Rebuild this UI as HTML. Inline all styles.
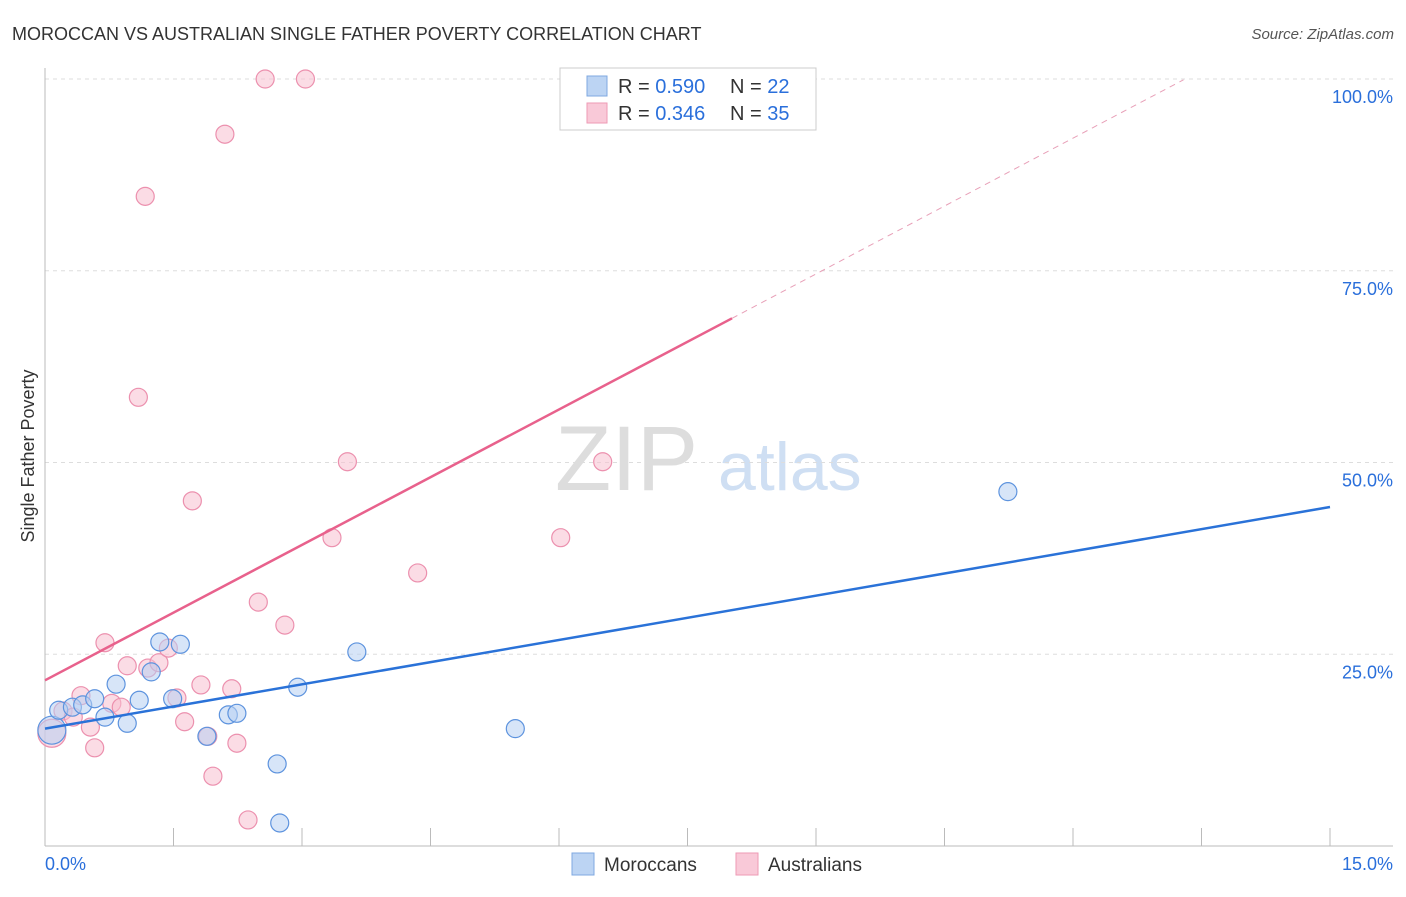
<!DOCTYPE html>
<html><head><meta charset="utf-8"><style>
body{margin:0;background:#fff;font-family:"Liberation Sans",sans-serif}
svg text{font-family:"Liberation Sans",sans-serif}
</style></head><body>
<svg id="c" width="1406" height="892">
<text x="12" y="40" font-size="18" fill="#333">MOROCCAN VS AUSTRALIAN SINGLE FATHER POVERTY CORRELATION CHART</text>
<text x="1394" y="39" font-size="15" fill="#555" font-style="italic" text-anchor="end">Source: ZipAtlas.com</text>
<text x="34" y="456" font-size="18" fill="#333" text-anchor="middle" transform="rotate(-90 34 456)">Single Father Poverty</text>
<text x="555" y="490" font-size="92" fill="#ddd" font-family="Liberation Serif">ZIP</text>
<text x="718" y="490" font-size="68" fill="#cfdff3">atlas</text>
<g id="grid"></g><g id="pts"></g><g id="lines"></g>
<g>
<rect x="560" y="68" width="256" height="62" fill="#fff" stroke="#ccc"/>
<rect x="587" y="76" width="20" height="20" fill="#bcd4f3" stroke="#7fa8e0"/>
<text x="618" y="93" font-size="20" fill="#333">R = <tspan fill="#2a6fdb">0.590</tspan></text>
<text x="730" y="93" font-size="20" fill="#333">N = <tspan fill="#2a6fdb">22</tspan></text>
<rect x="587" y="103" width="20" height="20" fill="#f9c9d8" stroke="#ee9ab5"/>
<text x="618" y="120" font-size="20" fill="#333">R = <tspan fill="#2a6fdb">0.346</tspan></text>
<text x="730" y="120" font-size="20" fill="#333">N = <tspan fill="#2a6fdb">35</tspan></text>
</g>
<g>
<rect x="572" y="853" width="22" height="22" fill="#bcd4f3" stroke="#7fa8e0"/>
<text x="604" y="871" font-size="19" fill="#333">Moroccans</text>
<rect x="736" y="853" width="22" height="22" fill="#f9c9d8" stroke="#ee9ab5"/>
<text x="768" y="871" font-size="19" fill="#333">Australians</text>
</g>
</svg>
<script>
const blueX=[0.08,0.16,0.32,0.44,0.58,0.83,0.70,0.96,1.10,1.24,1.34,1.58,1.49,1.89,2.14,2.24,2.95,2.71,2.74,3.64,5.49,11.24];
const blueY=[15.1,17.7,18.1,18.4,19.2,21.1,16.8,16.0,19.0,22.7,26.6,26.3,19.2,14.3,17.1,17.3,20.7,10.7,3.0,25.3,15.3,46.2];
const pinkX=[0.70,0.96,1.20,1.33,1.44,0.42,0.78,0.89,0.53,0.58,0.21,0.33,1.82,2.18,1.54,1.63,1.90,2.24,1.96,2.37,2.80,0.08,2.49,4.35,3.35,1.72,1.09,1.17,2.10,2.57,3.04,3.53,6.51,6.02];
const pinkY=[26.5,23.5,23.2,23.9,25.8,19.6,18.6,18.1,15.5,12.8,17.6,16.8,21.0,20.5,19.3,16.2,14.3,13.4,9.1,3.4,28.8,14.7,31.8,35.6,40.2,45.0,58.5,84.7,92.8,100,100,50.1,50.1,40.2];
const yTicks=[25,50,75,100];
const yTickLabels=["25.0%","50.0%","75.0%","100.0%"];
const xTicks=[0,1.5,3,4.5,6,7.5,9,10.5,12,13.5,15];
const blueTrend=[15.3,44.2];
const pinkTrend=[21.6,68.8,99.9];
const pinkSolidEnd=8.02, pinkDashEnd=13.29;
const NS="http://www.w3.org/2000/svg";
const X=v=>45+v/15*1285, Y=v=>846-v/100*767;
function mk(t,a,p){const e=document.createElementNS(NS,t);for(const k in a)e.setAttribute(k,a[k]);p.appendChild(e);return e;}
const g=document.getElementById('grid');
yTicks.forEach((t,i)=>{
 const l=mk('line',{x1:45,x2:1393,y1:Y(t),y2:Y(t),stroke:'#ddd','stroke-dasharray':'4,4'},g);
 
 
 const tx=mk('text',{x:1393,y:Y(t)+24,'font-size':18,fill:'#2a6fdb','text-anchor':'end'},g);
 tx.textContent=yTickLabels[i];
 
 
});
const topGrid=mk('line',{x1:45,x2:1393,y1:79,y2:79,stroke:'#ddd','stroke-dasharray':'4,4'},g);


const ax=mk('line',{x1:45,x2:45,y1:68,y2:846,stroke:'#bbb'},g);


const bx=mk('line',{x1:45,x2:1393,y1:846,y2:846,stroke:'#bbb'},g);


xTicks.forEach(t=>{
 const l=mk('line',{x1:X(t),x2:X(t),y1:828,y2:846,stroke:'#bbb'},g);
 
 
});
const x0=mk('text',{x:45,y:870,'font-size':18,fill:'#2a6fdb'},g);x0.textContent='0.0%';


const x1=mk('text',{x:1393,y:870,'font-size':18,fill:'#2a6fdb','text-anchor':'end'},g);x1.textContent='15.0%';


const p=document.getElementById('pts');
function pts(xs,ys,fill,stroke,name){xs.forEach((x,i)=>{
 const r=(x<0.1)?14:9;
 const c=mk('circle',{cx:X(x),cy:Y(ys[i]),r:r,fill:fill,'fill-opacity':0.55,stroke:stroke,'stroke-width':1.2},p);
 
 
});}
pts(pinkX,pinkY,'#f7bfd0','#ec90ae','australian-point');
pts(blueX,blueY,'#b7d0f2','#5d93de','moroccan-point');
const L=document.getElementById('lines');
const bl=mk('line',{x1:X(0),y1:Y(blueTrend[0]),x2:X(15),y2:Y(blueTrend[1]),stroke:'#2a72d8','stroke-width':2.5},L);


const pl=mk('line',{x1:X(0),y1:Y(pinkTrend[0]),x2:X(pinkSolidEnd),y2:Y(pinkTrend[1]),stroke:'#e8618c','stroke-width':2.5},L);


const pd=mk('line',{x1:X(pinkSolidEnd),y1:Y(pinkTrend[1]),x2:X(pinkDashEnd),y2:Y(pinkTrend[2]),stroke:'#e8a0b8','stroke-width':1,'stroke-dasharray':'6,5'},L);


</script>
</body></html>
